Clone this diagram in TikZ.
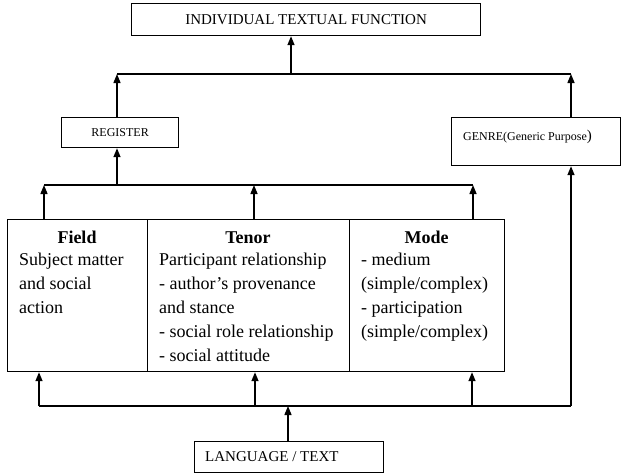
\documentclass[tikz,border=0pt]{standalone}
\usepackage{fontspec}
\setmainfont{Liberation Serif}
\usetikzlibrary{arrows.meta}
\begin{document}
\begin{tikzpicture}[x=1pt,y=-1pt,
  box/.style={draw, line width=1.2pt, inner sep=0pt, anchor=north west},
  conn/.style={line width=1.4pt},
  arr/.style={conn, -{Triangle[length=9pt,width=7pt]}},
  title/.style={font=\fontsize{18}{24}\selectfont\bfseries, anchor=base, inner sep=0pt},
  body/.style={font=\fontsize{18}{24}\selectfont, align=left, anchor=north west, inner sep=0pt}]
\useasboundingbox (0,0) rectangle (628,474);
% boxes
\node[box, minimum width=349pt, minimum height=32pt, font=\fontsize{15}{18}\selectfont] (itf) at (131,3) {INDIVIDUAL TEXTUAL FUNCTION};
\node[box, minimum width=117pt, minimum height=30pt, font=\fontsize{12}{14}\selectfont] (reg) at (61,117) {REGISTER};
\node[box, minimum width=169pt, minimum height=48pt] (genre) at (451,117) {};
\node[anchor=west, inner sep=0pt, font=\fontsize{12}{14}\selectfont] (genretxt) at (463,137) {GENRE(Generic Purpose{\fontsize{15}{16}\selectfont)}};
\node[box, minimum width=140pt, minimum height=152pt] (field) at (7,219) {};
\node[box, minimum width=202pt, minimum height=152pt] (tenor) at (147,219) {};
\node[box, minimum width=155pt, minimum height=152pt] (mode) at (349,219) {};
\node[box, minimum width=189pt, minimum height=31pt] (lang) at (194,441) {};
\node[anchor=west, inner sep=0pt, font=\fontsize{15}{18}\selectfont] (langtxt) at (205,457) {LANGUAGE / TEXT};
% box texts
\node[title] (fieldt) at (77,243) {Field};
\node[title] (tenort) at (248,243) {Tenor};
\node[title] (modet) at (426.5,243) {Mode};
\node[body] (fieldb) at (19,253) {Subject matter\\and social\\action};
\node[body] (tenorb) at (159,253) {Participant relationship\\- author’s provenance\\and stance\\- social role relationship\\- social attitude};
\node[body] (modeb) at (361,253) {- medium\\(simple/complex)\\- participation\\(simple/complex)};
% junction coordinates
\coordinate (tL) at (117,74);
\coordinate (tM) at (291,74);
\coordinate (tR) at (571,74);
\coordinate (mL) at (44,185);
\coordinate (mReg) at (117,185);
\coordinate (mM) at (254,185);
\coordinate (mR) at (473,185);
\coordinate (bL) at (39,406);
\coordinate (bM) at (255,406);
\coordinate (bLang) at (288,406);
\coordinate (bMode) at (472,406);
\coordinate (bR) at (571,406);
% top level
\draw[conn] (tL) -- (tR);
\draw[arr] (tM) -- (tM |- itf.south);
\draw[arr] (tL |- reg.north) -- (tL);
\draw[arr] (tR |- genre.north) -- (tR);
% middle level
\draw[conn] (mL) -- (mR);
\draw[arr] (mReg) -- (mReg |- reg.south);
\draw[arr] (mL |- field.north) -- (mL);
\draw[arr] (mM |- tenor.north) -- (mM);
\draw[arr] (mR |- mode.north) -- (mR);
% bottom level
\draw[conn] (bL) -- (bR);
\draw[arr] (bL) -- (bL |- field.south);
\draw[arr] (bM) -- (bM |- tenor.south);
\draw[arr] (bMode) -- (bMode |- mode.south);
\draw[arr] (bR) -- (bR |- genre.south);
\draw[arr] (bLang |- lang.north) -- (bLang);
\end{tikzpicture}
\end{document}
